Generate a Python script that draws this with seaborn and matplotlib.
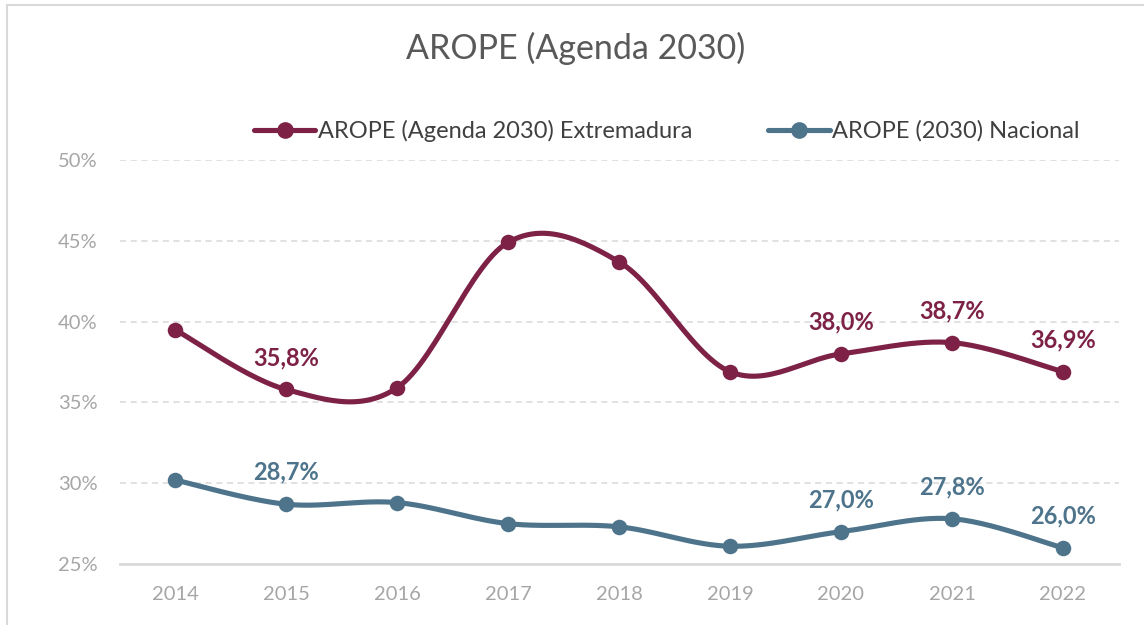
import numpy as np
import pandas as pd
import matplotlib
matplotlib.use("Agg")
import matplotlib.pyplot as plt
from matplotlib.lines import Line2D
from matplotlib.patches import Rectangle
from matplotlib.ticker import PercentFormatter
import seaborn as sns

years = ["2014", "2015", "2016", "2017", "2018", "2019", "2020", "2021", "2022"]
extremadura = [39.5, 35.8, 35.9, 44.9, 43.7, 36.9, 38.0, 38.7, 36.9]
nacional = [30.2, 28.7, 28.8, 27.5, 27.3, 26.1, 27.0, 27.8, 26.0]
label_years = ["2015", "2020", "2021", "2022"]

name_ext = "AROPE (Agenda 2030) Extremadura"
name_nac = "AROPE (2030) Nacional"
col_ext = "#7D2246"
col_nac = "#4E748C"


def smooth(xs, ys, n=30):
    # Catmull-Rom curve through the points, like Excel's smoothed line
    p = np.column_stack([xs, ys]).astype(float)
    p = np.vstack([p[0], p, p[-1]])
    out = []
    for i in range(1, len(p) - 2):
        p0, p1, p2, p3 = p[i - 1], p[i], p[i + 1], p[i + 2]
        t = np.linspace(0, 1, n)[:, None]
        c1 = p1 + (p2 - p0) / 6
        c2 = p2 - (p3 - p1) / 6
        seg = ((1 - t) ** 3) * p1 + 3 * ((1 - t) ** 2) * t * c1 + 3 * (1 - t) * t ** 2 * c2 + t ** 3 * p2
        out.append(seg if i == 1 else seg[1:])
    out = np.vstack(out)
    return out[:, 0], out[:, 1]


df = pd.DataFrame({"Year": years, name_ext: extremadura, name_nac: nacional})
df["x"] = range(len(years))

sns.set_theme(style="white")
plt.rcParams["font.family"] = ["Lato", "DejaVu Sans"]

fig = plt.figure(figsize=(11.44, 6.25), dpi=100)
ax = fig.add_axes([119.5 / 1144, 1 - 564 / 625, 999 / 1144, 404 / 625])

for name, col in [(name_ext, col_ext), (name_nac, col_nac)]:
    sx, sy = smooth(df["x"], df[name])
    ax.plot(sx, sy, color=col, lw=3.7, solid_capstyle="round", zorder=3)
    sns.scatterplot(data=df, x="x", y=name, color=col, s=125, edgecolor=col,
                    linewidth=0, ax=ax, zorder=4, legend=False)
    for _, row in df[df["Year"].isin(label_years)].iterrows():
        ax.annotate(f"{row[name]:.1f}%".replace(".", ","), (row["x"], row[name]),
                    xytext=(0, 23), textcoords="offset points", ha="center", va="center",
                    color=col, fontsize=17, fontweight="bold", zorder=5)

ax.set_xlim(-0.5, len(years) - 0.5)
ax.set_ylim(25, 50)
ax.set_yticks([25, 30, 35, 40, 45, 50])
ax.yaxis.set_major_formatter(PercentFormatter(decimals=0))
ax.set_xticks(df["x"])
ax.set_xticklabels(years)
ax.set_xlabel("")
ax.set_ylabel("")
ax.grid(axis="y", color="#d9d9d9", linestyle=(0, (4, 3)), lw=1.1)
ax.grid(axis="x", visible=False)
for s in ["top", "right", "left"]:
    ax.spines[s].set_visible(False)
ax.spines["bottom"].set_color("#d9d9d9")
ax.spines["bottom"].set_linewidth(2)
ax.tick_params(axis="both", length=0, labelsize=14.5, labelcolor="#a6a6a6")
ax.tick_params(axis="x", pad=16)
ax.tick_params(axis="y", pad=16)

handles = [Line2D([0], [0], color=col_ext, lw=3.7, marker="o", markersize=11),
           Line2D([0], [0], color=col_nac, lw=3.7, marker="o", markersize=11)]
fig.legend(handles, [name_ext, name_nac], loc="center", ncol=2,
           bbox_to_anchor=(667 / 1144, 1 - 131 / 625), frameon=False,
           fontsize=17, handlelength=2.6, handletextpad=0.12, columnspacing=3.2,
           labelcolor="#404040")

fig.text(576 / 1144, 1 - 48 / 625, "AROPE (Agenda 2030)", ha="center", va="center",
         fontsize=24.5, color="#595959")

fig.patches.append(Rectangle((7 / 1144, -0.1), 1.2, 1 - 5 / 625 + 0.1, transform=fig.transFigure,
                             fill=False, edgecolor="#d9d9d9", lw=1.5))

fig.savefig("out.png", dpi=100)
